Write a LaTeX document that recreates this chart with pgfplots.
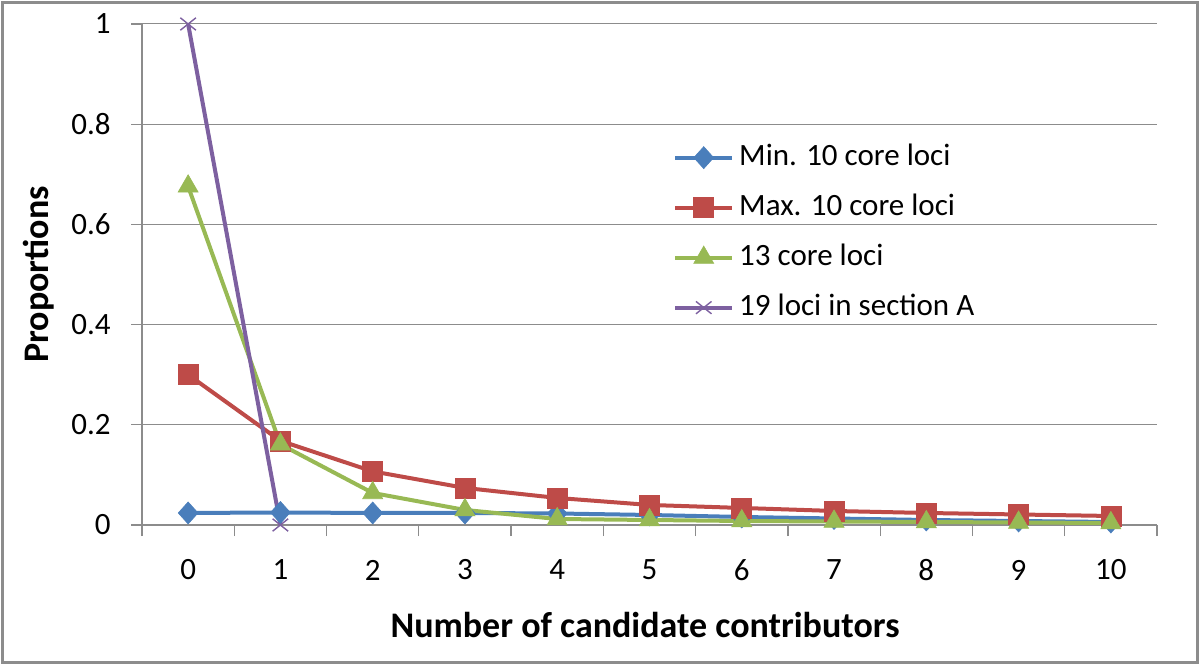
\documentclass[border=0pt]{standalone}
\usepackage{pgfplots}
\pgfplotsset{compat=1.18}
\usepackage{fontspec}
\setmainfont{Carlito}
\definecolor{cblue}{HTML}{4A7EBB}
\definecolor{cred}{HTML}{BE4B48}
\definecolor{cgreen}{HTML}{98B954}
\definecolor{cpurple}{HTML}{7D60A0}
\definecolor{cgrid}{HTML}{8C8C8C}
\begin{document}
\begin{tikzpicture}
\useasboundingbox (0,0) rectangle (600pt,332.5pt);
\draw[cgrid, line width=1.2pt] (1.3pt,1.3pt) rectangle (598.7pt,331.2pt);
\begin{axis}[
  at={(71pt,70pt)}, anchor=south west,
  scale only axis, width=507.5pt, height=250.5pt,
  xmin=-0.5, xmax=10.5, ymin=0, ymax=1,
  xtick={0,...,10},
  minor xtick={-0.5,0.5,...,10.5},
  ytick={0,0.2,0.4,0.6,0.8,1},
  major x tick style={draw=none},
  tick align=outside, tick pos=left,
  major tick length=5.5pt, minor tick length=5.5pt,
  axis x line*=bottom, axis y line*=left,
  axis line style={cgrid, line width=0.6pt},
  every tick/.style={cgrid, line width=0.6pt},
  ymajorgrids, grid style={cgrid, line width=0.5pt},
  /pgf/number format/assume math mode=true,
  ticklabel style={font=\fontsize{15.5}{18}\selectfont, text=black},
  xticklabel style={anchor=center, inner sep=0pt, yshift=-17pt},
  yticklabel style={anchor=east, inner sep=0pt, xshift=-10pt},
  xlabel={Number of candidate contributors},
  ylabel={Proportions},
  label style={font=\fontsize{18}{21}\selectfont\bfseries},
  xlabel style={at={(axis description cs:0.4956,-0.2)}, anchor=center},
  ylabel style={at={(axis description cs:-0.1015,0.5)}, anchor=center, rotate=0},
  legend style={draw=none, fill=none, at={(axis description cs:0.523,0.762)}, anchor=north west,
    font=\fontsize{15.5}{18}\selectfont, row sep=11pt, column sep=2.5pt, inner sep=0pt,
    nodes={inner sep=0pt, text height=11pt, text depth=3pt}},
  legend cell align=left,
  legend image code/.code={\draw[mark repeat=2,mark phase=2] plot coordinates {(0pt,0pt)(14.25pt,0pt)(28.5pt,0pt)};},
  every axis plot/.append style={line width=2pt},
]
\addplot[cblue, mark=diamond*, mark size=5.5pt, mark options={solid, fill=cblue, line width=0.3pt, xscale=1.2}] coordinates {
(0,0.024)(1,0.025)(2,0.024)(3,0.024)(4,0.023)(5,0.020)(6,0.016)(7,0.013)(8,0.010)(9,0.008)(10,0.006)};
\addlegendentry{Min. 10 core loci}
\addplot[cred, mark=square*, mark size=5pt, mark options={solid, fill=cred, line width=0.3pt}] coordinates {
(0,0.300)(1,0.168)(2,0.107)(3,0.074)(4,0.054)(5,0.040)(6,0.034)(7,0.028)(8,0.024)(9,0.021)(10,0.018)};
\addlegendentry{Max. 10 core loci}
\addplot[cgreen, mark=triangle*, mark size=5.8pt, mark options={solid, fill=cgreen, line width=0.3pt}] coordinates {
(0,0.676)(1,0.161)(2,0.064)(3,0.030)(4,0.012)(5,0.010)(6,0.008)(7,0.007)(8,0.006)(9,0.005)(10,0.004)};
\addlegendentry{13 core loci}
\addplot[cpurple, mark=x, mark size=5.5pt, mark options={solid, line width=0.7pt, yscale=0.8}] coordinates {
(0,1)(1,0)};
\addlegendentry{19 loci in section A}
\end{axis}
\end{tikzpicture}
\end{document}
